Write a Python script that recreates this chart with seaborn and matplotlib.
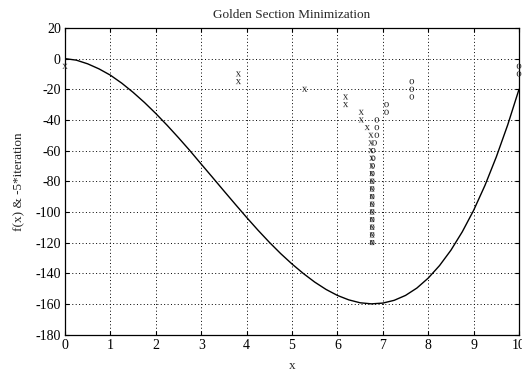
import numpy as np
import pandas as pd
import matplotlib
matplotlib.use("Agg")
import matplotlib.pyplot as plt
import seaborn as sns

# f(x) sampled every 0.25 on [0, 10]
x_samples = np.linspace(0, 10, 41)
f_values = [0.0, -1.0, -3.4, -6.7, -10.8, -16.0, -22.0, -28.6, -35.8, -43.5,
            -51.6, -60.0, -68.8, -77.5, -86.3, -95.0, -103.6, -111.9, -119.8, -127.2,
            -134.0, -140.2, -145.8, -150.6, -154.5, -157.4, -159.3, -160.0, -159.5, -157.7,
            -154.5, -149.7, -143.2, -135.0, -125.0, -113.0, -99.0, -82.7, -64.1, -43.3,
            -20.0]

# bracket ends [a, b] at each golden-section iteration
iterations = list(range(1, 25))
lower = [0.0, 3.820, 3.820, 5.279, 6.180, 6.180, 6.525, 6.525, 6.657, 6.738,
         6.738, 6.738, 6.757, 6.757, 6.757, 6.762, 6.762, 6.764, 6.764, 6.765,
         6.765, 6.765, 6.765, 6.765]
upper = [10.0, 10.0, 7.639, 7.639, 7.639, 7.082, 7.082, 6.869, 6.869, 6.869,
         6.819, 6.788, 6.788, 6.776, 6.769, 6.769, 6.766, 6.766, 6.766, 6.766,
         6.766, 6.766, 6.766, 6.766]

x_ticks = list(range(0, 11))
y_ticks = list(range(-180, 21, 20))

sns.set_theme(style="white")
plt.rcParams["font.family"] = ["Liberation Serif", "DejaVu Serif"]
plt.rcParams["mathtext.fontset"] = "custom"
plt.rcParams["mathtext.rm"] = "Liberation Serif"

curve = pd.DataFrame({"x": x_samples, "f": f_values})
steps = pd.DataFrame({
    "a": lower,
    "b": upper,
    "y": [-5 * k for k in iterations],
})

fig = plt.figure(figsize=(5.22, 3.73), dpi=100)
ax = fig.add_axes([0.1245, 0.1032, 0.8698, 0.8218])

sns.lineplot(data=curve, x="x", y="f", color="black", linewidth=1.0, ax=ax)
sns.scatterplot(data=steps, x="a", y="y", marker=r"$\mathrm{x}$", s=14,
                color="#222222", linewidth=0, edgecolor="none", clip_on=False,
                zorder=3, ax=ax)
sns.scatterplot(data=steps, x="b", y="y", marker=r"$\mathrm{o}$", s=14,
                color="#222222", linewidth=0, edgecolor="none", clip_on=False,
                zorder=3, ax=ax)

ax.set_xlim(0, 10)
ax.set_ylim(-180, 20)
ax.set_xticks(x_ticks)
ax.set_yticks(y_ticks)
ax.set_xticklabels([str(v) for v in x_ticks], fontsize=10)
ax.set_yticklabels([str(v) for v in y_ticks], fontsize=10)
ax.grid(True, color="black", linestyle=(0, (1, 2.5)), linewidth=0.7)
ax.tick_params(direction="in", length=3, width=0.8, top=True, right=True,
               bottom=True, left=True, pad=3, colors="black")
for sp in ax.spines.values():
    sp.set_visible(True)
    sp.set_color("black")
    sp.set_linewidth(0.9)

ax.set_title("Golden Section Minimization", fontsize=9.5, pad=7)
ax.set_xlabel("x", fontsize=9.5)
ax.xaxis.set_label_coords(0.5, -0.083)
ax.set_ylabel("f(x) & -5*iteration", fontsize=9.5, labelpad=7)

fig.savefig("out.png", dpi=100)
